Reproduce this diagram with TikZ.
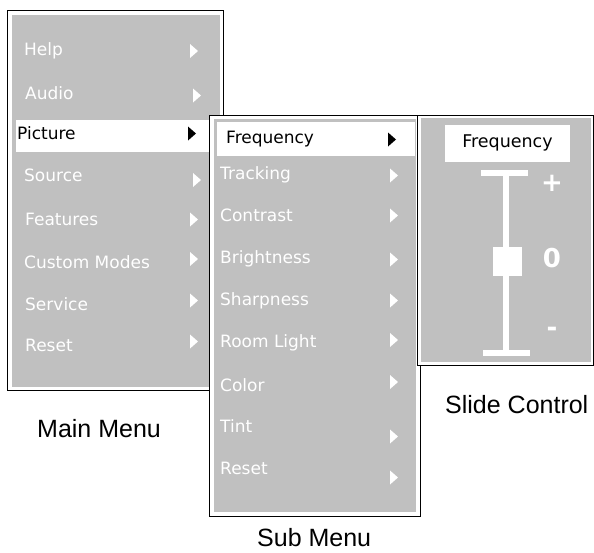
\documentclass[tikz,border=0pt]{standalone}
\usepackage{fontspec}
\newfontfamily\menufont{DejaVu Sans}
\newfontfamily\menufontbold{DejaVu Sans Bold}
\newfontfamily\capfont{Liberation Sans}
\definecolor{menugray}{HTML}{C0C0C0}
\newcommand\menutri[3]{\fill[#3] (#1,#2-7) -- ++(8,7) -- ++(-8,7) -- cycle;}
\begin{document}
\begin{tikzpicture}[x=1pt,y=-1pt,
  item/.style={anchor=base west, inner sep=0, text=white, font=\menufont\fontsize{17}{20}\selectfont},
  sel/.style={item, text=black},
  caption/.style={anchor=base west, inner sep=0, font=\capfont\fontsize{25}{30}\selectfont},
  frame/.style={draw=black, line width=1pt, fill=white},
  panel/.style={fill=menugray},
  hl/.style={fill=white},
  sign/.style={inner sep=0, text=white, font=\menufontbold\fontsize{26}{30}\selectfont}]
\useasboundingbox (0,0) rectangle (594,552);
\fill[white] (0,0) rectangle (594,552);

% ---------- main menu ----------
\draw[frame] (7,10) rectangle (223,390);
\fill[panel] (12,15) rectangle (220,387);
\fill[hl] (16,120) rectangle (220,152);
\node[item] (mHelp)    at (24,55)  {Help};
\node[item] (mAudio)   at (25,99)  {Audio};
\node[sel]  (mPicture) at (17,139) {Picture};
\node[item] (mSource)  at (24,181.5) {Source};
\node[item] (mFeat)    at (25,225) {Features};
\node[item] (mCustom)  at (24,268) {Custom Modes};
\node[item] (mService) at (25,310) {Service};
\node[item] (mReset)   at (25,351) {Reset};
\menutri{190}{51}{white}
\menutri{193}{95.5}{white}
\menutri{188}{133.5}{black}
\menutri{193}{180}{white}
\menutri{190}{219.5}{white}
\menutri{190}{259}{white}
\menutri{190}{300.5}{white}
\menutri{190}{341.5}{white}
\node[caption] (capMain) at (37,437) {Main Menu};

% ---------- sub menu ----------
\draw[frame] (209,115) rectangle (420,516);
\fill[panel] (213.5,119) rectangle (416,512);
\fill[hl] (217,122) rectangle (415,156);
\node[sel]  (sFreq)   at (226,143) {Frequency};
\node[item] (sTrack)  at (220,179) {Tracking};
\node[item] (sContr)  at (220,221) {Contrast};
\node[item] (sBright) at (220,263) {Brightness};
\node[item] (sSharp)  at (220,305) {Sharpness};
\node[item] (sRoom)   at (220,347) {Room Light};
\node[item] (sColor)  at (220,391) {Color};
\node[item] (sTint)   at (220,432) {Tint};
\node[item] (sReset)  at (220,474) {Reset};
\menutri{388}{139.5}{black}
\menutri{390}{175.5}{white}
\menutri{390}{215.5}{white}
\menutri{390}{259.5}{white}
\menutri{390}{300.5}{white}
\menutri{390}{340}{white}
\menutri{390}{382}{white}
\menutri{390}{436.5}{white}
\menutri{390}{477.5}{white}
\node[caption] (capSub) at (257,546) {Sub Menu};

% ---------- slide control ----------
\draw[frame] (417,115) rectangle (593,365);
\fill[panel] (421,118) rectangle (591,362);
\fill[hl] (445,125) rectangle (570,162);
\node[sel, anchor=base] (tFreq) at (507.5,147) {\fontsize{17.5}{20}\selectfont Frequency};
\fill[white] (481,170) rectangle (528,176);
\fill[white] (503,176) rectangle (509,350);
\fill[white] (483,350) rectangle (530,356);
\fill[white] (493,247) rectangle (522,276);
\node[sign] (plus)  at (552,183) {+};
\node[sign] (zero)  at (552,258) {0};
\node[sign] (minus) at (552,332) {-};
\node[caption] (capSlide) at (445,413) {Slide Control};
\end{tikzpicture}
\end{document}
